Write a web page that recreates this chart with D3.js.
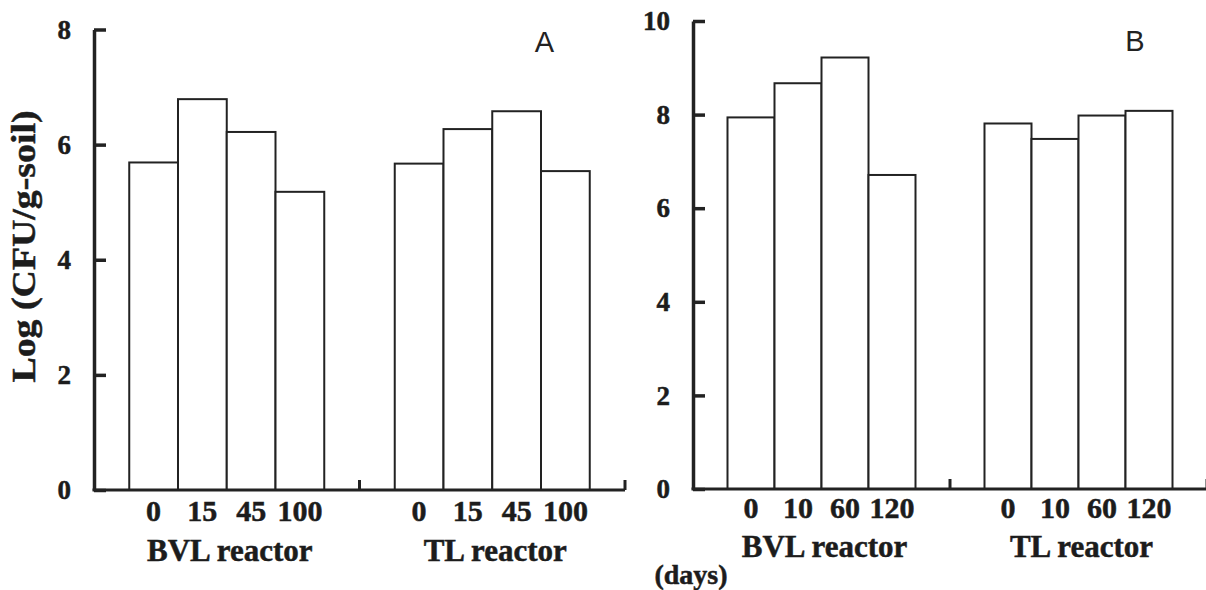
<!DOCTYPE html>
<html>
<head>
<meta charset="utf-8">
<script src="https://cdn.jsdelivr.net/npm/d3@7"></script>
<style>
  html, body { margin: 0; padding: 0; background: #fff; }
  svg { display: block; }
  .serif { font-family: "Liberation Serif", "Times New Roman", serif; font-weight: bold; fill: #1c1c1c; stroke: #1c1c1c; stroke-width: 0.5px; }
  .sans { font-family: "Liberation Sans", Arial, sans-serif; fill: #222; }
</style>
</head>
<body>
<svg id="chart" width="1206" height="590"></svg>
<script>
// Reactor groups and sampling days
const groups = ["BVL reactor", "TL reactor"];
const daysA = ["0", "15", "45", "100"];
const daysB = ["0", "10", "60", "120"];

// Log (CFU/g-soil) values
const bvlA = [5.69, 6.79, 6.22, 5.18];
const tlA  = [5.67, 6.27, 6.58, 5.54];
const bvlB = [7.94, 8.67, 9.22, 6.71];
const tlB  = [7.81, 7.48, 7.98, 8.08];

// Y-axis tick values
const yTicksA = [0, 2, 4, 6, 8];
const yTicksB = [0, 2, 4, 6, 8, 10];

const svg = d3.select("#chart");
const ink = "#222";

function drawPanel(opt) {
  const g = svg.append("g");

  const y = d3.scaleLinear().domain([0, opt.yMax]).range([opt.y0, opt.yTop]);
  const xg = d3.scaleBand().domain(groups).range([opt.left, opt.right]).padding(0);
  const xd = d3.scaleBand().domain(opt.days).range([0, xg.bandwidth()])
    .paddingInner(0).paddingOuter(opt.outerPad);

  // bars
  groups.forEach((grp, gi) => {
    const vals = opt.series[gi];
    g.append("g")
      .attr("transform", `translate(${xg(grp)},0)`)
      .selectAll("rect")
      .data(vals)
      .join("rect")
      .attr("x", (d, i) => xd(opt.days[i]))
      .attr("y", d => y(d))
      .attr("width", xd.bandwidth())
      .attr("height", d => y(0) - y(d))
      .attr("fill", "#fff")
      .attr("stroke", ink)
      .attr("stroke-width", 2);

    // day labels under each group
    const ax = g.append("g")
      .attr("transform", `translate(${xg(grp)},${opt.y0})`)
      .call(d3.axisBottom(xd).tickSize(0).tickPadding(opt.dayPad));
    ax.select(".domain").remove();
    ax.selectAll("text").attr("class", "serif").style("font-size", "30px");

    // group title
    g.append("text")
      .attr("class", "serif")
      .attr("x", xg(grp) + xg.bandwidth() / 2 + 3)
      .attr("y", opt.titleY)
      .attr("text-anchor", "middle")
      .style("font-size", "31px")
      .text(grp);
  });

  // x-axis baseline with upward ticks at group boundaries
  g.append("line")
    .attr("x1", opt.left - 1.5).attr("x2", opt.right)
    .attr("y1", opt.y0).attr("y2", opt.y0)
    .attr("stroke", ink).attr("stroke-width", 3);
  g.selectAll(".gtick")
    .data(groups)
    .join("line")
    .attr("class", "gtick")
    .attr("x1", d => xg(d) + xg.bandwidth())
    .attr("x2", d => xg(d) + xg.bandwidth())
    .attr("y1", opt.y0).attr("y2", opt.y0 - 10)
    .attr("stroke", ink).attr("stroke-width", 3);

  // y-axis with inward ticks
  const ya = g.append("g")
    .attr("transform", `translate(${opt.left},0)`)
    .call(d3.axisLeft(y).tickValues(opt.yTicks).tickFormat(d3.format("d"))
      .tickSizeInner(-12).tickSizeOuter(0).tickPadding(23));
  ya.select(".domain").attr("stroke", ink).attr("stroke-width", 3.5);
  ya.selectAll(".tick line").attr("stroke", ink).attr("stroke-width", 3.5);
  ya.selectAll("text").attr("class", "serif").style("font-size", "27px");

  // panel letter
  g.append("text")
    .attr("class", "sans")
    .attr("x", opt.letterX).attr("y", opt.letterY)
    .attr("text-anchor", "middle")
    .style("font-size", "29px")
    .text(opt.letter);
}

drawPanel({
  left: 94, right: 625, y0: 490, yTop: 29.5, yMax: 8,
  days: daysA, series: [bvlA, tlA], yTicks: yTicksA,
  outerPad: 0.723, dayPad: 10, titleY: 561,
  letter: "A", letterX: 544.5, letterY: 52
});

drawPanel({
  left: 693, right: 1207, y0: 489, yTop: 21, yMax: 10,
  days: daysB, series: [bvlB, tlB], yTicks: yTicksB,
  outerPad: 0.734, dayPad: 8, titleY: 557,
  letter: "B", letterX: 1135, letterY: 51
});

// shared y-axis title
svg.append("text")
  .attr("class", "serif")
  .attr("transform", "translate(35,246.5) rotate(-90)")
  .attr("text-anchor", "middle")
  .attr("textLength", 272)
  .attr("lengthAdjust", "spacingAndGlyphs")
  .style("font-size", "34px")
  .text("Log (CFU/g-soil)");

// unit note for the sampling days
svg.append("text")
  .attr("class", "serif")
  .attr("x", 691).attr("y", 584)
  .attr("text-anchor", "middle")
  .style("font-size", "28px")
  .text("(days)");
</script>
</body>
</html>
